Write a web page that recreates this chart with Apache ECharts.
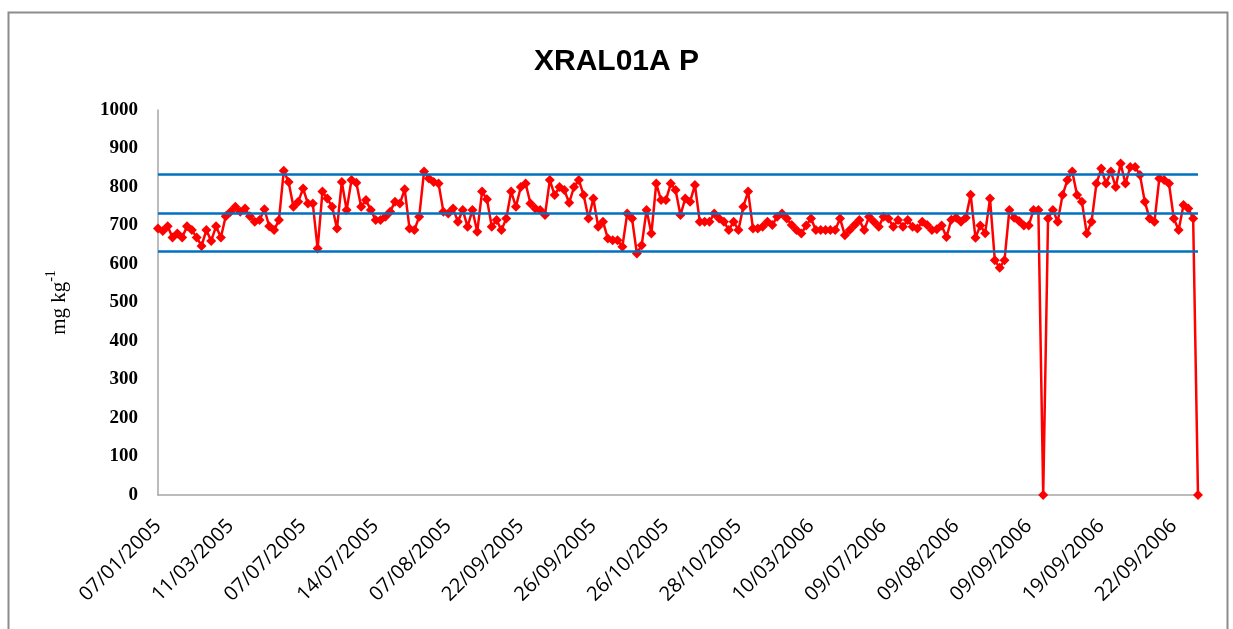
<!DOCTYPE html>
<html>
<head>
<meta charset="utf-8">
<script src="https://cdn.jsdelivr.net/npm/echarts@6/dist/echarts.min.js"></script>
<style>
  html, body { margin: 0; padding: 0; background: #fff; }
  #chart { width: 1233px; height: 629px; }
</style>
</head>
<body>
<div id="chart"></div>
<script>
// Tick labels shown on the category axis, one every 15 samples
const tickLabels = [
  '07/01/2005', '11/03/2005', '07/07/2005', '14/07/2005', '07/08/2005',
  '22/09/2005', '26/09/2005', '26/10/2005', '28/10/2005', '10/03/2006',
  '09/07/2006', '09/08/2006', '09/09/2006', '19/09/2006', '22/09/2006'
];
const labelStep = 15;

// Measured P concentration (mg kg-1), in sample order
const values = [
  692, 686, 698, 669, 679, 669, 698, 688, 669, 647, 688, 660, 698, 669, 724, 736, 749, 736, 744, 724, 710, 714, 742, 698, 688, 714, 842,
  813, 749, 762, 796, 757, 757, 640, 788, 770, 749, 692, 813, 740, 818, 811, 749, 766, 740, 714, 714, 723, 736, 762, 757, 794, 692, 688,
  723, 840, 822, 813, 809, 736, 731, 744, 710, 740, 697, 740, 684, 788, 768, 697, 714, 688, 718, 788, 749, 800, 809, 757, 744, 740, 727,
  818, 779, 800, 792, 759, 800, 818, 779, 718, 770, 697, 710, 666, 662, 662, 645, 731, 718, 627, 649, 740, 679, 809, 766, 766, 809, 792,
  727, 770, 762, 805, 710, 710, 710, 731, 718, 710, 688, 710, 688, 749, 788, 692, 692, 697, 710, 701, 723, 731, 718, 701, 688, 679, 700,
  718, 688, 688, 688, 688, 688, 718, 675, 688, 701, 714, 688, 723, 710, 697, 723, 718, 697, 714, 697, 714, 697, 692, 710, 701, 688,
  690, 700, 670, 715, 720, 710, 720, 780, 668, 700, 680, 770, 610, 590, 610, 740, 720, 712, 700, 700, 740, 740, 0,
  718, 740, 710, 779, 818, 840, 779, 762, 679, 710, 809, 848, 809, 840, 800, 861, 809, 852, 852, 831, 762, 718, 710, 822, 818, 809, 718, 688, 753, 744, 718, 0
];

// Reference levels: mean and upper/lower control limits
const meanLevel = 733;
const upperLimit = 832;
const lowerLimit = 632;

// Category data: sample index; the axis formatter shows the date ticks
const categories = values.map((_, i) => String(i));

const chart = echarts.init(document.getElementById('chart'));

chart.setOption({
  animation: false,
  backgroundColor: '#ffffff',
  title: {
    text: 'XRAL01A P',
    left: 'center',
    top: 42,
    textStyle: {
      fontFamily: 'Liberation Sans',
      fontWeight: 'bold',
      fontSize: 30,
      color: '#000'
    }
  },
  graphic: [{
    type: 'rect',
    shape: { x: 8.5, y: 12.5, width: 1219, height: 650 },
    style: { fill: 'none', stroke: '#8c8c8c', lineWidth: 2 },
    silent: true
  }],
  grid: { left: 158, right: 35, top: 110, bottom: 134, containLabel: false },
  xAxis: {
    type: 'category',
    data: categories,
    boundaryGap: false,
    axisLine: { lineStyle: { color: '#a6a6a6', width: 1.5 } },
    axisTick: { show: false },
    splitLine: { show: false },
    axisLabel: {
      interval: labelStep - 1,
      rotate: 45,
      margin: 28,
      fontFamily: 'Open Sans',
      fontSize: 20,
      color: '#000',
      formatter: (v, idx) => tickLabels[Math.round(idx / labelStep)] || ''
    }
  },
  yAxis: {
    type: 'value',
    min: 0,
    max: 1000,
    interval: 100,
    axisLine: { show: true, lineStyle: { color: '#a6a6a6', width: 1.5 } },
    axisTick: { show: false },
    splitLine: { show: false },
    axisLabel: {
      margin: 20,
      fontFamily: 'Liberation Serif',
      fontWeight: 'bold',
      fontSize: 19,
      color: '#000',
      formatter: (v) => String(v)
    },
    name: '{a|mg kg}{s|-1}',
    nameLocation: 'middle',
    nameRotate: 90,
    nameGap: 88,
    nameTextStyle: {
      rich: {
        a: { fontFamily: 'Liberation Serif', fontSize: 21, color: '#000', lineHeight: 26, verticalAlign: 'bottom' },
        s: { fontFamily: 'Liberation Serif', fontSize: 14, color: '#000', lineHeight: 26, verticalAlign: 'top' }
      }
    }
  },
  series: [{
    type: 'line',
    data: values,
    showSymbol: true,
    showAllSymbol: true,
    symbol: 'diamond',
    symbolSize: 10,
    lineStyle: { color: '#ff0000', width: 2.5 },
    itemStyle: { color: '#ff0000' },
    z: 3,
    markLine: {
      silent: true,
      symbol: ['none', 'none'],
      label: { show: false },
      lineStyle: { color: '#0070c0', width: 2.5, type: 'solid' },
      data: [
        { yAxis: upperLimit },
        { yAxis: meanLevel },
        { yAxis: lowerLimit }
      ]
    }
  }]
});
</script>
</body>
</html>
